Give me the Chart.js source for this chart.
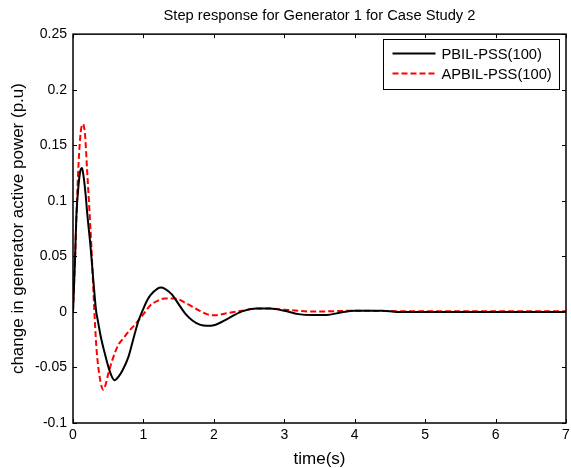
<!DOCTYPE html>
<html lang="en">
<head>
    <meta charset="UTF-8">
    <title>Step response for Generator 1</title>
    <style>
        body {
            margin: 0;
            padding: 0;
            background-color: #ffffff;
        }
        .chart-container {
            position: relative;
            width: 571px;
            height: 468px;
        }
    </style>
    <script src="https://cdn.jsdelivr.net/npm/chart.js"></script>
</head>
<body>
    <div class="chart-container">
        <canvas id="stepChart" width="571" height="468"></canvas>
    </div>
    <script>
        const TITLE = "Step response for Generator 1 for Case Study 2";
        const X_TICKS = [0, 1, 2, 3, 4, 5, 6, 7];
        const Y_TICKS = [-0.1, -0.05, 0, 0.05, 0.1, 0.15, 0.2, 0.25];

        // PBIL-PSS(100)
        const pbilTime = [0, 0.03, 0.047, 0.08, 0.105, 0.128, 0.15, 0.18, 0.2, 0.25, 0.28, 0.313, 0.33, 0.35, 0.4, 0.45, 0.5, 0.55, 0.59, 0.65, 0.7, 0.79, 0.85, 0.93, 1.0, 1.05, 1.1, 1.2, 1.25, 1.3, 1.4, 1.5, 1.6, 1.7, 1.8, 1.9, 2.0, 2.2, 2.4, 2.6, 2.8, 3.0, 3.2, 3.4, 3.6, 3.8, 4.0, 4.4, 4.6, 5.0, 6.0, 7.0];
        const pbilValue = [0, 0.05, 0.085, 0.115, 0.127, 0.1295, 0.122, 0.105, 0.09, 0.058, 0.035, 0.0104, 0, -0.007, -0.024, -0.037, -0.049, -0.058, -0.0615, -0.058, -0.053, -0.04, -0.026, -0.008, 0.003, 0.01, 0.015, 0.021, 0.022, 0.021, 0.016, 0.007, -0.002, -0.008, -0.0115, -0.0125, -0.012, -0.006, 0.0005, 0.003, 0.003, 0.001, -0.002, -0.0028, -0.0028, -0.0005, 0.001, 0.001, 0, 0, 0, 0];

        // APBIL-PSS(100)
        const apbilTime = [0, 0.03, 0.05, 0.08, 0.11, 0.142, 0.17, 0.2, 0.23, 0.26, 0.3, 0.33, 0.37, 0.41, 0.43, 0.46, 0.5, 0.55, 0.6, 0.65, 0.7, 0.8, 0.9, 1.0, 1.1, 1.2, 1.3, 1.45, 1.6, 1.8, 1.9, 2.0, 2.2, 2.4, 2.6, 2.8, 3.0, 3.2, 3.4, 4.0, 5.0, 6.0, 7.0];
        const apbilValue = [0, 0.05, 0.088, 0.135, 0.162, 0.169, 0.16, 0.128, 0.095, 0.06, 0.005, -0.03, -0.055, -0.068, -0.07, -0.066, -0.056, -0.045, -0.036, -0.029, -0.025, -0.017, -0.01, -0.002, 0.006, 0.01, 0.012, 0.012, 0.008, 0.001, -0.002, -0.003, -0.001, 0.001, 0.003, 0.003, 0.002, 0.001, 0.0003, 0.001, 0.0005, 0.0005, 0.0005];

        const FONT = "'Liberation Sans', Arial, sans-serif";
        const toPoints = (xs, ys) => xs.map((x, i) => ({ x: x, y: ys[i] }));

        // inward tick marks on all four sides + legend box inside the axes
        const boxPlugin = {
            id: "boxPlugin",
            afterDraw(chart) {
                const { ctx, chartArea: a, scales } = chart;
                ctx.save();
                ctx.strokeStyle = "#000";
                ctx.lineWidth = 1.5;
                ctx.strokeRect(a.left, a.top, a.right - a.left, a.bottom - a.top);
                ctx.lineWidth = 1;
                ctx.beginPath();
                X_TICKS.forEach(v => {
                    const px = Math.round(scales.x.getPixelForValue(v)) + 0.5;
                    ctx.moveTo(px, a.bottom); ctx.lineTo(px, a.bottom - 4);
                    ctx.moveTo(px, a.top); ctx.lineTo(px, a.top + 4);
                });
                Y_TICKS.forEach(v => {
                    const py = Math.round(scales.y.getPixelForValue(v)) + 0.5;
                    ctx.moveTo(a.left, py); ctx.lineTo(a.left + 4, py);
                    ctx.moveTo(a.right, py); ctx.lineTo(a.right - 4, py);
                });
                ctx.stroke();

                // legend
                const lx = 383.5, ly = 39.5, lw = 176, lh = 50;
                ctx.fillStyle = "#fff";
                ctx.fillRect(lx, ly, lw, lh);
                ctx.strokeRect(lx, ly, lw, lh);
                ctx.font = "14.7px " + FONT;
                ctx.textBaseline = "middle";
                chart.data.datasets.forEach((ds, i) => {
                    const y = ly + 14 + i * 20;
                    ctx.beginPath();
                    ctx.strokeStyle = ds.borderColor;
                    ctx.lineWidth = 2;
                    ctx.setLineDash(ds.borderDash || []);
                    ctx.moveTo(lx + 9, y); ctx.lineTo(lx + 52, y);
                    ctx.stroke();
                    ctx.setLineDash([]);
                    ctx.fillStyle = "#000";
                    ctx.fillText(ds.label, lx + 58, y + 1);
                });
                ctx.restore();
            }
        };

        const ctx = document.getElementById("stepChart").getContext("2d");
        new Chart(ctx, {
            type: "line",
            data: {
                datasets: [
                    {
                        label: "PBIL-PSS(100)",
                        data: toPoints(pbilTime, pbilValue),
                        borderColor: "#000000",
                        borderWidth: 2,
                        pointRadius: 0,
                        cubicInterpolationMode: "monotone",
                    },
                    {
                        label: "APBIL-PSS(100)",
                        data: toPoints(apbilTime, apbilValue),
                        borderColor: "#ff0000",
                        borderWidth: 2,
                        borderDash: [6, 3],
                        pointRadius: 0,
                        cubicInterpolationMode: "monotone",
                    },
                ],
            },
            options: {
                responsive: false,
                animation: false,
                layout: { padding: { left: 0, right: 5, top: 0, bottom: 0 } },
                plugins: {
                    legend: { display: false },
                    tooltip: { enabled: false },
                    title: {
                        display: true,
                        fullSize: false,
                        text: TITLE,
                        color: "#000",
                        font: { family: FONT, size: 14.7, weight: "normal" },
                        padding: { top: 7, bottom: 9.5 },
                    },
                },
                scales: {
                    x: {
                        type: "linear",
                        min: 0,
                        max: 7,
                        afterBuildTicks: s => { s.ticks = X_TICKS.map(v => ({ value: v })); },
                        afterFit: s => { s.height = 45; s.paddingLeft = 0; s.paddingRight = 0; },
                        grid: { display: false, drawTicks: false },
                        border: { display: false },
                        ticks: {
                            color: "#000",
                            padding: 3.6,
                            autoSkip: false,
                            maxRotation: 0,
                            font: { family: FONT, size: 14 },
                        },
                        title: {
                            display: true,
                            text: "time(s)",
                            color: "#000",
                            padding: { top: 4, bottom: 0 },
                            font: { family: FONT, size: 17, lineHeight: 1 },
                        },
                    },
                    y: {
                        min: -0.1,
                        max: 0.25,
                        afterBuildTicks: s => { s.ticks = Y_TICKS.map(v => ({ value: v })); },
                        afterFit: s => { s.width = 73; },
                        grid: { display: false, drawTicks: false },
                        border: { display: false },
                        ticks: {
                            color: "#000",
                            padding: 6,
                            autoSkip: false,
                            font: { family: FONT, size: 14 },
                            callback: v => String(Math.round(v * 100) / 100),
                        },
                        title: {
                            display: true,
                            text: "change in generator active power (p.u)",
                            color: "#000",
                            padding: { top: 8, bottom: 0 },
                            font: { family: FONT, size: 17 },
                        },
                    },
                },
            },
            plugins: [boxPlugin],
        });
    </script>
</body>
</html>
